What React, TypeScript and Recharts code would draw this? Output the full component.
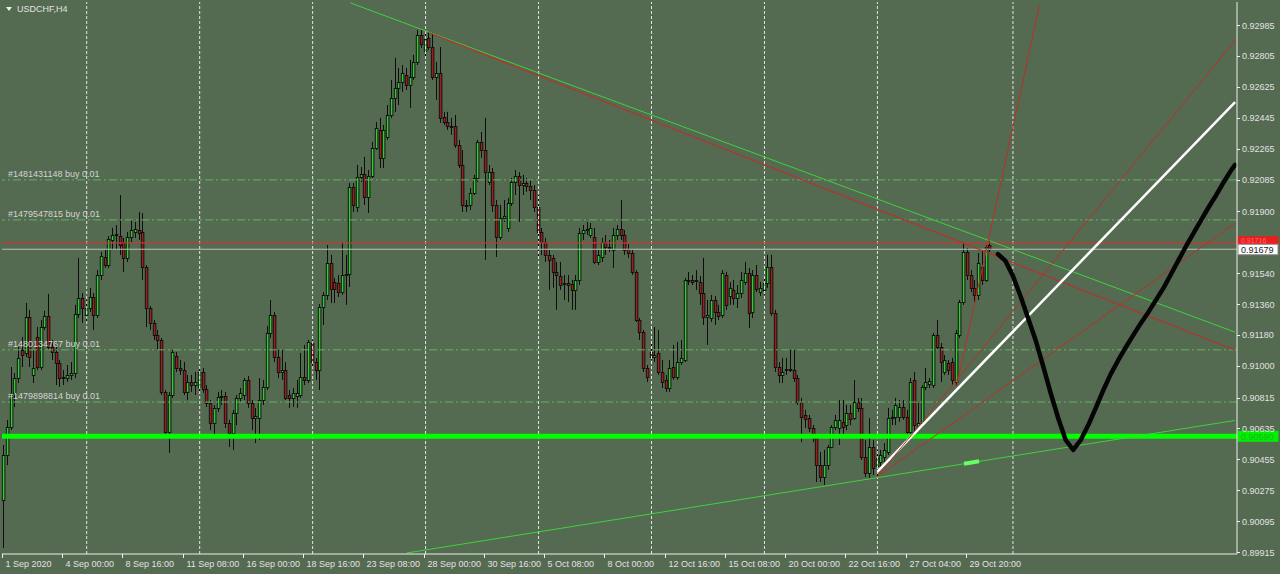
import React from 'react';
import { ComposedChart, Bar, Line, XAxis, YAxis, ReferenceLine } from 'recharts';

const FONT = '"Liberation Sans", Arial, sans-serif';
const BG = '#546a51';
const FRAME = '#eeeeee';
const TEXT = '#e2e2e2';
const BULL = '#35c935';
const BEAR = '#9c1f1f';

// USDCHF H4 candles, one per bar, left to right
const opens = [
  0.90219, 0.90481, 0.90644, 0.90842, 0.90929, 0.91093, 0.91075, 0.91285, 0.90947, 0.91168,
  0.90993, 0.91226, 0.91291, 0.91110, 0.91081, 0.91017, 0.90935, 0.90929, 0.90947, 0.90958,
  0.91302, 0.91395, 0.91297, 0.91337, 0.91401, 0.91297, 0.91529, 0.91634, 0.91587, 0.91733,
  0.91762, 0.91756, 0.91721, 0.91628, 0.91750, 0.91780, 0.91791, 0.91780, 0.91576, 0.91337,
  0.91250, 0.91180, 0.91151, 0.90848, 0.90615, 0.90830, 0.91057, 0.90987, 0.90976, 0.90848,
  0.90906, 0.90888, 0.90877, 0.90964, 0.90865, 0.90783, 0.90667, 0.90755, 0.90818, 0.90824,
  0.90667, 0.90609, 0.90725, 0.90813, 0.90830, 0.90918, 0.90783, 0.90696, 0.90696, 0.90801,
  0.90877, 0.91191, 0.91297, 0.91051, 0.90964, 0.90976, 0.90830, 0.90813, 0.90824, 0.90830,
  0.90935, 0.90918, 0.91133, 0.91022, 0.90976, 0.91343, 0.91413, 0.91599, 0.91488, 0.91483,
  0.91430, 0.91529, 0.91535, 0.92042, 0.91925, 0.92100, 0.92117, 0.91983, 0.92106, 0.92269,
  0.92374, 0.92211, 0.92333, 0.92461, 0.92560, 0.92618, 0.92653, 0.92694, 0.92636, 0.92682,
  0.92770, 0.92927, 0.92834, 0.92910, 0.92857, 0.92682, 0.92706, 0.92449, 0.92420, 0.92397,
  0.92397, 0.92286, 0.92170, 0.91937, 0.91937, 0.92007, 0.92094, 0.92304, 0.92257, 0.92071,
  0.92129, 0.91937, 0.91750, 0.91861, 0.91803, 0.91949, 0.92071, 0.92106, 0.92053, 0.92065,
  0.92048, 0.92024, 0.91925, 0.91780, 0.91721, 0.91646, 0.91628, 0.91547, 0.91523, 0.91477,
  0.91483, 0.91477, 0.91442, 0.91500, 0.91774, 0.91791, 0.91762, 0.91750, 0.91605, 0.91634,
  0.91721, 0.91692, 0.91675, 0.91762, 0.91797, 0.91762, 0.91681, 0.91657, 0.91547, 0.91267,
  0.91197, 0.90987, 0.91081, 0.91051, 0.91075, 0.90964, 0.90918, 0.90871, 0.90993, 0.90935,
  0.91022, 0.91034, 0.91500, 0.91500, 0.91494, 0.91488, 0.91424, 0.91285, 0.91279, 0.91384,
  0.91314, 0.91297, 0.91529, 0.91407, 0.91442, 0.91395, 0.91424, 0.91488, 0.91541, 0.91314,
  0.91529, 0.91430, 0.91442, 0.91483, 0.91576, 0.91308, 0.90993, 0.90947, 0.90976, 0.90982,
  0.90976, 0.90929, 0.90789, 0.90714, 0.90696, 0.90638, 0.90580, 0.90422, 0.90352, 0.90422,
  0.90527, 0.90644, 0.90638, 0.90673, 0.90655, 0.90725, 0.90696, 0.90789, 0.90755, 0.90469,
  0.90376, 0.90527, 0.90417, 0.90440, 0.90469, 0.90498, 0.90696, 0.90702, 0.90702, 0.90760,
  0.90702, 0.90615, 0.90918, 0.90638, 0.90667, 0.90877, 0.90894, 0.90888, 0.91180, 0.91110,
  0.90964, 0.91017, 0.91022, 0.90906, 0.91180, 0.91372, 0.91663, 0.91529, 0.91454, 0.91413,
  0.91576, 0.91500, 0.91704,
];

const highs = [
  0.90539, 0.90685, 0.90993, 0.90958, 0.91110, 0.91168, 0.91366, 0.91326, 0.91093, 0.91226,
  0.91267, 0.91320, 0.91419, 0.91151, 0.91122, 0.91034, 0.90976, 0.91005, 0.91022, 0.91355,
  0.91628, 0.91424, 0.91384, 0.91454, 0.91424, 0.91558, 0.91663, 0.91675, 0.91756, 0.91803,
  0.91820, 0.91995, 0.91745, 0.91780, 0.91850, 0.91838, 0.91896, 0.91890, 0.91587, 0.91349,
  0.91267, 0.91209, 0.91162, 0.90859, 0.90848, 0.91093, 0.91081, 0.91034, 0.91022, 0.90947,
  0.90947, 0.90964, 0.90987, 0.90987, 0.90888, 0.90801, 0.90772, 0.90848, 0.90859, 0.90848,
  0.90685, 0.90743, 0.90830, 0.90871, 0.90929, 0.90941, 0.90801, 0.90755, 0.90929, 0.90918,
  0.91232, 0.91384, 0.91314, 0.91093, 0.91093, 0.91022, 0.90859, 0.90871, 0.90918, 0.91075,
  0.91122, 0.91151, 0.91151, 0.91046, 0.91360, 0.91430, 0.91704, 0.91646, 0.91512, 0.91529,
  0.91721, 0.91646, 0.92065, 0.92065, 0.92170, 0.92158, 0.92217, 0.92141, 0.92304, 0.92420,
  0.92444, 0.92403, 0.92519, 0.92665, 0.92793, 0.92735, 0.92752, 0.92735, 0.92782, 0.92811,
  0.92956, 0.92956, 0.92945, 0.92945, 0.92939, 0.92770, 0.92857, 0.92479, 0.92479, 0.92444,
  0.92461, 0.92316, 0.92257, 0.91966, 0.92036, 0.92112, 0.92316, 0.92362, 0.92444, 0.92170,
  0.92152, 0.91966, 0.91937, 0.91966, 0.91978, 0.92094, 0.92141, 0.92129, 0.92112, 0.92094,
  0.92083, 0.92053, 0.91995, 0.91803, 0.91745, 0.91675, 0.91646, 0.91605, 0.91605, 0.91529,
  0.91529, 0.91500, 0.91529, 0.91803, 0.91820, 0.91838, 0.91832, 0.91803, 0.91675, 0.91745,
  0.91762, 0.91733, 0.91803, 0.91820, 0.91966, 0.91791, 0.91710, 0.91675, 0.91558, 0.91279,
  0.91209, 0.91005, 0.91133, 0.91226, 0.91209, 0.91034, 0.90947, 0.91034, 0.91122, 0.91139,
  0.91151, 0.91512, 0.91547, 0.91529, 0.91558, 0.91523, 0.91628, 0.91384, 0.91413, 0.91407,
  0.91355, 0.91558, 0.91547, 0.91488, 0.91500, 0.91471, 0.91547, 0.91605, 0.91570, 0.91558,
  0.91587, 0.91488, 0.91512, 0.91646, 0.91646, 0.91326, 0.91022, 0.91046, 0.91046, 0.91093,
  0.91093, 0.90947, 0.90813, 0.90743, 0.90714, 0.90655, 0.90597, 0.90498, 0.90510, 0.90539,
  0.90655, 0.90714, 0.90801, 0.90801, 0.90772, 0.90772, 0.90918, 0.90813, 0.90813, 0.90568,
  0.90696, 0.90568, 0.90510, 0.90510, 0.90550, 0.90755, 0.90743, 0.90813, 0.90801, 0.90801,
  0.90743, 0.90929, 0.90964, 0.90783, 0.90888, 0.90987, 0.90929, 0.91191, 0.91267, 0.91133,
  0.91063, 0.91034, 0.91046, 0.91209, 0.91384, 0.91721, 0.91686, 0.91558, 0.91500, 0.91657,
  0.91675, 0.91704, 0.91733,
];

const lows = [
  0.89939, 0.90422, 0.90626, 0.90760, 0.90900, 0.90993, 0.91051, 0.90993, 0.90900, 0.90976,
  0.90976, 0.91209, 0.91093, 0.91034, 0.90888, 0.90877, 0.90888, 0.90906, 0.90918, 0.90929,
  0.91279, 0.91250, 0.91255, 0.91314, 0.91209, 0.91279, 0.91500, 0.91570, 0.91570, 0.91675,
  0.91675, 0.91646, 0.91547, 0.91605, 0.91721, 0.91745, 0.91733, 0.91500, 0.91226, 0.91209,
  0.91151, 0.91093, 0.90830, 0.90585, 0.90492, 0.90813, 0.90964, 0.90947, 0.90830, 0.90801,
  0.90848, 0.90830, 0.90848, 0.90842, 0.90760, 0.90626, 0.90580, 0.90731, 0.90772, 0.90638,
  0.90527, 0.90510, 0.90655, 0.90789, 0.90801, 0.90755, 0.90626, 0.90550, 0.90568, 0.90772,
  0.90859, 0.91162, 0.91022, 0.90929, 0.90918, 0.90801, 0.90755, 0.90760, 0.90755, 0.90813,
  0.90888, 0.90900, 0.90987, 0.90918, 0.90859, 0.91238, 0.91384, 0.91366, 0.91366, 0.91401,
  0.91413, 0.91355, 0.91459, 0.91896, 0.91896, 0.92071, 0.91937, 0.91890, 0.92094, 0.92257,
  0.92152, 0.92152, 0.92316, 0.92444, 0.92479, 0.92519, 0.92595, 0.92607, 0.92502, 0.92665,
  0.92752, 0.92851, 0.92793, 0.92840, 0.92665, 0.92549, 0.92415, 0.92403, 0.92374, 0.92345,
  0.92269, 0.92152, 0.91896, 0.91896, 0.91908, 0.91995, 0.92071, 0.92211, 0.91617, 0.92053,
  0.91896, 0.91634, 0.91733, 0.91838, 0.91780, 0.91931, 0.91995, 0.91838, 0.91995, 0.92013,
  0.91966, 0.91896, 0.91628, 0.91646, 0.91605, 0.91442, 0.91454, 0.91326, 0.91442, 0.91384,
  0.91372, 0.91326, 0.91326, 0.91471, 0.91733, 0.91762, 0.91745, 0.91593, 0.91587, 0.91605,
  0.91646, 0.91663, 0.91570, 0.91733, 0.91733, 0.91646, 0.91628, 0.91529, 0.91255, 0.91151,
  0.90964, 0.90906, 0.91034, 0.91022, 0.90947, 0.90871, 0.90848, 0.90848, 0.90918, 0.90918,
  0.91005, 0.91022, 0.91471, 0.91471, 0.91442, 0.91355, 0.91238, 0.91122, 0.91255, 0.91238,
  0.91267, 0.91279, 0.91326, 0.91355, 0.91355, 0.91337, 0.91395, 0.91471, 0.91220, 0.91279,
  0.91430, 0.91407, 0.91413, 0.91454, 0.91291, 0.90964, 0.90900, 0.90900, 0.90947, 0.90964,
  0.90906, 0.90772, 0.90556, 0.90638, 0.90615, 0.90556, 0.90323, 0.90323, 0.90306, 0.90394,
  0.90521, 0.90626, 0.90539, 0.90597, 0.90626, 0.90655, 0.90685, 0.90731, 0.90452, 0.90352,
  0.90347, 0.90364, 0.90347, 0.90394, 0.90440, 0.90481, 0.90655, 0.90655, 0.90673, 0.90685,
  0.90597, 0.90597, 0.90615, 0.90626, 0.90644, 0.90859, 0.90871, 0.90871, 0.91093, 0.90906,
  0.90947, 0.90947, 0.90888, 0.90877, 0.91162, 0.91355, 0.91500, 0.91430, 0.91372, 0.91384,
  0.91471, 0.91488, 0.91663,
];

const closes = [
  0.90481, 0.90644, 0.90842, 0.90929, 0.91046, 0.91063, 0.91285, 0.91051, 0.90987, 0.90993,
  0.91226, 0.91291, 0.91110, 0.91081, 0.91017, 0.90929, 0.90929, 0.90947, 0.90958, 0.91302,
  0.91395, 0.91337, 0.91337, 0.91401, 0.91297, 0.91529, 0.91640, 0.91587, 0.91739, 0.91762,
  0.91768, 0.91704, 0.91628, 0.91750, 0.91791, 0.91797, 0.91774, 0.91576, 0.91337, 0.91250,
  0.91180, 0.91151, 0.90848, 0.90615, 0.90830, 0.91081, 0.90987, 0.90976, 0.90848, 0.90906,
  0.90888, 0.90906, 0.90964, 0.90865, 0.90783, 0.90667, 0.90755, 0.90818, 0.90824, 0.90667,
  0.90609, 0.90725, 0.90813, 0.90842, 0.90918, 0.90783, 0.90696, 0.90708, 0.90801, 0.90877,
  0.91191, 0.91297, 0.91051, 0.90964, 0.90976, 0.90813, 0.90813, 0.90842, 0.90842, 0.90935,
  0.90918, 0.91139, 0.91022, 0.90976, 0.91343, 0.91413, 0.91599, 0.91448, 0.91448, 0.91430,
  0.91529, 0.91535, 0.92042, 0.91937, 0.92100, 0.92117, 0.91983, 0.92106, 0.92269, 0.92385,
  0.92211, 0.92374, 0.92461, 0.92560, 0.92618, 0.92653, 0.92706, 0.92636, 0.92682, 0.92770,
  0.92927, 0.92875, 0.92904, 0.92857, 0.92682, 0.92706, 0.92444, 0.92420, 0.92397, 0.92391,
  0.92286, 0.92170, 0.91937, 0.91931, 0.92007, 0.92094, 0.92304, 0.92257, 0.92129, 0.92129,
  0.91937, 0.91750, 0.91861, 0.91873, 0.91949, 0.92071, 0.92106, 0.92053, 0.92065, 0.92048,
  0.92024, 0.91925, 0.91780, 0.91721, 0.91646, 0.91617, 0.91547, 0.91529, 0.91471, 0.91483,
  0.91471, 0.91442, 0.91500, 0.91774, 0.91791, 0.91797, 0.91803, 0.91605, 0.91646, 0.91721,
  0.91692, 0.91687, 0.91762, 0.91797, 0.91762, 0.91675, 0.91657, 0.91547, 0.91267, 0.91197,
  0.90987, 0.90935, 0.91051, 0.91063, 0.90964, 0.90906, 0.90871, 0.90987, 0.90935, 0.91022,
  0.91046, 0.91500, 0.91494, 0.91490, 0.91500, 0.91424, 0.91285, 0.91297, 0.91384, 0.91314,
  0.91291, 0.91541, 0.91355, 0.91454, 0.91395, 0.91424, 0.91500, 0.91541, 0.91308, 0.91529,
  0.91448, 0.91454, 0.91483, 0.91576, 0.91308, 0.90993, 0.90947, 0.90964, 0.90982, 0.90976,
  0.90929, 0.90789, 0.90702, 0.90690, 0.90638, 0.90580, 0.90422, 0.90352, 0.90422, 0.90527,
  0.90644, 0.90685, 0.90685, 0.90644, 0.90725, 0.90690, 0.90789, 0.90755, 0.90469, 0.90376,
  0.90527, 0.90405, 0.90463, 0.90481, 0.90510, 0.90696, 0.90702, 0.90772, 0.90760, 0.90702,
  0.90615, 0.90906, 0.90655, 0.90667, 0.90877, 0.90906, 0.90912, 0.91180, 0.91110, 0.91022,
  0.91034, 0.90976, 0.90918, 0.91191, 0.91372, 0.91663, 0.91529, 0.91454, 0.91413, 0.91599,
  0.91500, 0.91692, 0.91679,
];

const timeLabels = [
  '1 Sep 2020', '4 Sep 00:00', '8 Sep 16:00', '11 Sep 08:00', '16 Sep 00:00', '18 Sep 16:00',
  '23 Sep 08:00', '28 Sep 00:00', '30 Sep 16:00', '5 Oct 08:00', '8 Oct 00:00', '12 Oct 16:00',
  '15 Oct 08:00', '20 Oct 00:00', '22 Oct 16:00', '27 Oct 04:00', '29 Oct 20:00',
];
const timeLabelBars = [0, 16, 32, 48, 64, 80, 96, 112, 128, 144, 160, 176, 192, 208, 224, 240, 256];
const weekStartBars = [22, 52, 82, 112, 142, 172, 202, 232, 268];

const priceTicks = [
  0.92985, 0.92805, 0.92625, 0.92445, 0.92265, 0.92085, 0.919, 0.9154, 0.9136,
  0.9118, 0.91, 0.90815, 0.90635, 0.90455, 0.90275, 0.90095, 0.89915,
];

const orderTickets = ['#1481431148', '#1479547815', '#1480134767', '#1479898814'];
const orderPrices = [0.92083, 0.9185, 0.91093, 0.90789];

const resistancePrice = 0.91716;
const bidPrice = 0.91679;
const supportPrice = 0.9059;

// trend lines: anchor bar and price at each end
const trendKeys = ['downGreen', 'downRed', 'upGreen', 'fanWhite', 'fanRedHigh', 'fanRedLow', 'steepRed', 'arrowGreen'];
const trendFromBar = [92, 113, 107, 232, 232, 232, 253, 255];
const trendFromPrice = [0.93114, 0.9294, 0.8991, 0.90384, 0.90355, 0.90355, 0.90877, 0.9043];
const trendToBar = [327, 327, 327, 327, 327, 327, 275, 259];
const trendToPrice = [0.91196, 0.91091, 0.90682, 0.92536, 0.92895, 0.9183, 0.93098, 0.90444];

// hand drawn forecast path
const sketchBars = [
  264, 266, 268, 270, 272, 274, 276, 278, 280, 282, 284, 286, 288, 290, 292, 294, 296,
  298, 300, 302, 304, 306, 308, 310, 312, 314, 316, 318, 320, 322, 324, 326, 327,
];
const sketchPrices = [
  0.91651, 0.91611, 0.91523, 0.91407, 0.91279, 0.91151, 0.90999, 0.90842, 0.90696, 0.90568,
  0.9051, 0.90568, 0.90655, 0.90755, 0.90859, 0.90953, 0.91034, 0.9111, 0.9118, 0.9125,
  0.91314, 0.91384, 0.91454, 0.91535, 0.91617, 0.91698, 0.91774, 0.9185, 0.91925, 0.91995,
  0.92071, 0.92141, 0.9217,
];

const TREND_STYLE: Record<string, { stroke: string; width: number }> = {
  downGreen: { stroke: '#3ed23e', width: 1 },
  downRed: { stroke: '#b8322a', width: 1.2 },
  upGreen: { stroke: '#3ed23e', width: 1 },
  fanWhite: { stroke: '#ffffff', width: 2.5 },
  fanRedHigh: { stroke: '#b8322a', width: 1 },
  fanRedLow: { stroke: '#b8322a', width: 1 },
  steepRed: { stroke: '#b8322a', width: 1 },
  arrowGreen: { stroke: '#66ff66', width: 4 },
};

const WIDTH = 1280;
const HEIGHT = 574;
const SLOTS = 328;
const PLOT_W = 1235;
const BAND = PLOT_W / SLOTS;
const DOMAIN: [number, number] = [0.89904, 0.93119];

const rows: Record<string, any>[] = Array.from({ length: SLOTS }, (_, i) => {
  const row: Record<string, any> = { i };
  if (i < closes.length) {
    row.open = opens[i];
    row.high = highs[i];
    row.low = lows[i];
    row.close = closes[i];
    row.hl = [lows[i], highs[i]];
  }
  return row;
});
trendKeys.forEach((key, k) => {
  rows[trendFromBar[k]][key] = trendFromPrice[k];
  rows[trendToBar[k]][key] = trendToPrice[k];
});
sketchBars.forEach((b, k) => {
  rows[b].sketch = sketchPrices[k];
});

function Candle(props: any) {
  const { x, y, width, height, index } = props;
  const d = props.payload && props.payload.open != null ? props.payload : rows[index];
  if (!d || d.open == null) return null;
  const k = d.high > d.low ? height / (d.high - d.low) : 0;
  const cx = Math.round(x + width / 2);
  const yo = y + (d.high - d.open) * k;
  const yc = y + (d.high - d.close) * k;
  const top = Math.round(Math.min(yo, yc)) + 0.5;
  const h = Math.max(Math.round(Math.abs(yc - yo)), 1);
  const up = d.close >= d.open;
  return (
    <g>
      <line x1={cx - 0.5} x2={cx - 0.5} y1={y} y2={y + height} stroke="#0d0d0d" strokeWidth={1} />
      <rect x={cx - 1.7} y={top} width={2.6} height={h} fill={up ? BULL : BEAR} stroke="#0d0d0d" strokeWidth={0.9} />
    </g>
  );
}

function TimeTick(props: any) {
  const { x, y, payload } = props;
  const k = timeLabelBars.indexOf(payload.value);
  if (k < 0) return null;
  const x0 = Math.round(x - BAND / 2) + 0.5;
  return (
    <g>
      <line x1={x0} x2={x0} y1={y} y2={y + 4} stroke={FRAME} />
      <text x={x0 + 3} y={y + 13} fill={TEXT} fontSize={9} fontFamily={FONT}>
        {timeLabels[k]}
      </text>
    </g>
  );
}

function PriceTick(props: any) {
  const { x, y, payload } = props;
  const yy = Math.round(y) + 0.5;
  return (
    <g>
      <line x1={x} x2={x + 3} y1={yy} y2={yy} stroke={FRAME} />
      <text x={x + 5} y={y + 3.5} fill={TEXT} fontSize={9} fontFamily={FONT}>
        {payload.value.toFixed(5)}
      </text>
    </g>
  );
}

function OrderLabel(props: any) {
  const { viewBox, text } = props;
  if (!viewBox) return null;
  return (
    <text x={viewBox.x + 6} y={viewBox.y - 3} fill="#d4d4d4" fontSize={9} fontFamily={FONT}>
      {text}
    </text>
  );
}

function PriceBox(props: any) {
  const { viewBox, text, bg, fg, border, top, bottom, size, dy } = props;
  if (!viewBox) return null;
  const x = viewBox.x + viewBox.width + 1;
  const y = viewBox.y;
  return (
    <g>
      <rect x={x} y={y - top} width={40} height={top + bottom} fill={bg} stroke={border} />
      <text x={x + 3} y={y + dy} fill={fg} fontSize={size} fontFamily={FONT}>
        {text}
      </text>
    </g>
  );
}

export default function App() {
  return (
    <div style={{ position: 'fixed', left: 0, top: 0, width: WIDTH, height: HEIGHT, background: BG, overflow: 'hidden' }}>
      <ComposedChart
        width={WIDTH}
        height={HEIGHT}
        data={rows}
        margin={{ top: 2, right: 0, bottom: 0, left: 2 }}
        barCategoryGap={0}
        barGap={0}
      >
        <XAxis
          dataKey="i"
          type="category"
          height={20}
          ticks={timeLabelBars}
          interval={0}
          tick={<TimeTick />}
          tickLine={false}
          tickSize={0}
          tickMargin={0}
          axisLine={{ stroke: FRAME }}
        />
        <XAxis xAxisId="top" dataKey="i" orientation="top" height={0} tick={false} tickLine={false} axisLine={{ stroke: FRAME }} />
        <YAxis
          orientation="right"
          type="number"
          domain={DOMAIN}
          allowDataOverflow
          width={43}
          ticks={priceTicks}
          interval={0}
          tick={<PriceTick />}
          tickLine={false}
          tickSize={0}
          tickMargin={0}
          axisLine={{ stroke: FRAME }}
        />
        <YAxis yAxisId="left" orientation="left" type="number" domain={DOMAIN} allowDataOverflow width={0} tick={false} tickLine={false} axisLine={{ stroke: FRAME }} />

        {weekStartBars.map((b) => (
          <ReferenceLine key={`w${b}`} x={b} stroke="#e6e6e6" strokeDasharray="3 2" />
        ))}
        {orderPrices.map((p, k) => (
          <ReferenceLine
            key={`o${k}`}
            y={p}
            stroke="#62b462"
            strokeDasharray="8 3 2 3"
            label={<OrderLabel text={`${orderTickets[k]} buy 0.01`} />}
          />
        ))}

        <Bar dataKey="hl" shape={<Candle />} isAnimationActive={false} />

        <ReferenceLine y={resistancePrice} stroke="#c43a32" strokeWidth={1.2} />
        <ReferenceLine y={bidPrice} stroke="#b9c2b9" />
        <ReferenceLine y={supportPrice} stroke="#00ff00" strokeWidth={5} />

        {trendKeys.map((key) => (
          <Line
            key={key}
            dataKey={key}
            stroke={TREND_STYLE[key].stroke}
            strokeWidth={TREND_STYLE[key].width}
            dot={false}
            activeDot={false}
            connectNulls
            isAnimationActive={false}
          />
        ))}
        <Line
          dataKey="sketch"
          stroke="#050505"
          strokeWidth={4.5}
          strokeLinecap="round"
          strokeLinejoin="round"
          dot={false}
          activeDot={false}
          connectNulls
          isAnimationActive={false}
        />

        <ReferenceLine
          y={resistancePrice}
          stroke="none"
          label={<PriceBox text={resistancePrice.toFixed(5)} bg="#ee1c1c" fg="#ff6a6a" border="#ee1c1c" top={6} bottom={5} size={7} dy={0.5} />}
        />
        <ReferenceLine
          y={bidPrice}
          stroke="none"
          label={<PriceBox text={bidPrice.toFixed(5)} bg="#ffffff" fg="#1a1a1a" border="#8a8a8a" top={5} bottom={5.5} size={9} dy={3.5} />}
        />
        <ReferenceLine
          y={supportPrice}
          stroke="none"
          label={<PriceBox text={supportPrice.toFixed(5)} bg="#00f000" fg="#1fb51f" border="#00f000" top={5} bottom={5} size={9} dy={3.5} />}
        />
      </ComposedChart>
      <div
        style={{
          position: 'absolute',
          left: 6,
          top: 3,
          display: 'flex',
          alignItems: 'center',
          color: TEXT,
          fontFamily: FONT,
          fontSize: 9,
          lineHeight: '12px',
        }}
      >
        <span
          style={{
            width: 0,
            height: 0,
            borderLeft: '3px solid transparent',
            borderRight: '3px solid transparent',
            borderTop: '4px solid #eeeeee',
            marginRight: 5,
          }}
        />
        USDCHF,H4
      </div>
    </div>
  );
}
